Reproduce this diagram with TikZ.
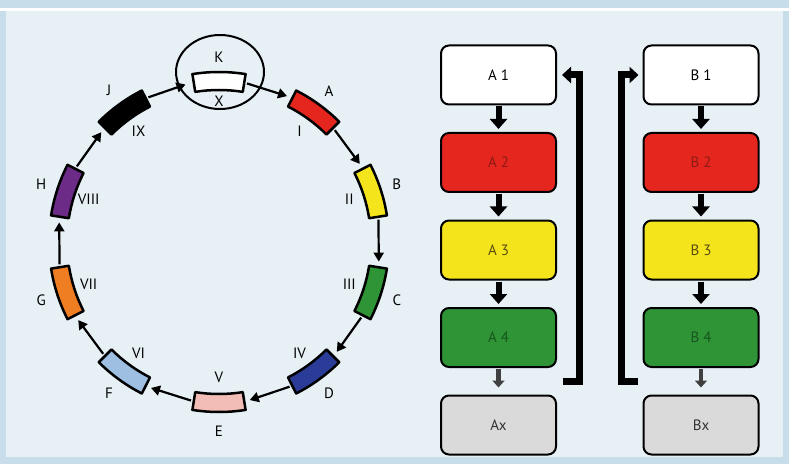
\documentclass[tikz,border=0pt]{standalone}
\usepackage{fontspec}
\setmainfont{PT Sans}
\usetikzlibrary{arrows.meta}

\definecolor{frameblue}{HTML}{C7DDE9}
\definecolor{paleblue}{HTML}{E7F0F5}
\definecolor{segred}{HTML}{E5261F}
\definecolor{segyellow}{HTML}{F3E41B}
\definecolor{seggreen}{HTML}{2E9436}
\definecolor{segblue}{HTML}{2B3C98}
\definecolor{segpink}{HTML}{F1BDB6}
\definecolor{segsky}{HTML}{9EBEE2}
\definecolor{segorange}{HTML}{EF7D22}
\definecolor{segpurple}{HTML}{6B2B86}
\definecolor{boxgray}{HTML}{DADADA}
\definecolor{darkred}{HTML}{8E1A14}
\definecolor{darkolive}{HTML}{5B4E12}
\definecolor{darkgreen}{HTML}{17561D}

\begin{document}
\begin{tikzpicture}[x=1pt,y=1pt,
  seg/.style={draw, line width=2.5pt, line join=round},
  cyc/.style={-{Triangle[length=9pt,width=10pt]}, line width=2.2pt},
  lbl/.style={font=\fontsize{15}{18}\selectfont},
  box/.style={draw, fill=white, line width=2pt, rounded corners=8pt, minimum width=115pt, minimum height=59pt, font=\fontsize{15}{18}\selectfont},
  down/.style={-{Triangle[length=10pt,width=17pt]}, line width=6pt, shorten <=1pt, shorten >=3pt},
  faint/.style={-{Triangle[length=7pt,width=12pt]}, line width=4.5pt, black!75, shorten <=1pt, shorten >=7pt},
  feedback/.style={-{Triangle[length=9pt,width=16pt]}, line width=7pt}]
% background
\fill[frameblue] (0,0) rectangle (789,464);
\fill[paleblue] (6,7) rectangle (783,453);
\fill[white] (0,453) rectangle (789,456);

\begin{scope}[shift={(219,222)}]
% segments
\draw[seg, fill=white] (81:152) arc (81:99:152) -- (99:170) arc (99:81:170) -- cycle; \coordinate (Kin) at (102:161); \coordinate (Kout) at (80:161);
\draw[seg, fill=segred] (45:152) arc (45:63:152) -- (63:170) arc (63:45:170) -- cycle; \coordinate (Ain) at (65:161); \coordinate (Aout) at (44:161);
\draw[seg, fill=segyellow] (9:152) arc (9:27:152) -- (27:170) arc (27:9:170) -- cycle; \coordinate (Bin) at (29:161); \coordinate (Bout) at (8:161);
\draw[seg, fill=seggreen] (-27:152) arc (-27:-9:152) -- (-9:170) arc (-9:-27:170) -- cycle; \coordinate (Cin) at (-7:161); \coordinate (Cout) at (-28:161);
\draw[seg, fill=segblue] (-63:152) arc (-63:-45:152) -- (-45:170) arc (-45:-63:170) -- cycle; \coordinate (Din) at (-43:161); \coordinate (Dout) at (-64:161);
\draw[seg, fill=segpink] (-99:152) arc (-99:-81:152) -- (-81:170) arc (-81:-99:170) -- cycle; \coordinate (Ein) at (-79:161); \coordinate (Eout) at (-100:161);
\draw[seg, fill=segsky] (-135:152) arc (-135:-117:152) -- (-117:170) arc (-117:-135:170) -- cycle; \coordinate (Fin) at (-115:161); \coordinate (Fout) at (-136:161);
\draw[seg, fill=segorange] (-171:152) arc (-171:-153:152) -- (-153:170) arc (-153:-171:170) -- cycle; \coordinate (Gin) at (-151:161); \coordinate (Gout) at (-172:161);
\draw[seg, fill=segpurple] (153:152) arc (153:171:152) -- (171:170) arc (171:153:170) -- cycle; \coordinate (Hin) at (173:161); \coordinate (Hout) at (152:161);
\draw[seg, fill=black] (117:152) arc (117:135:152) -- (135:170) arc (135:117:170) -- cycle; \coordinate (Jin) at (137:161); \coordinate (Jout) at (116:161);
\draw[line width=2pt] (1,170) ellipse (44 and 37);
% letters and numerals
\node[lbl] (lK) at (90:185) {K};   \node[lbl] (nX) at (90:141) {X};
\node[lbl] (lA) at (54:187) {A};   \node[lbl] (nI) at (54:137) {I};
\node[lbl] (lB) at (18:187) {B};   \node[lbl] (nII) at (18:137) {II};
\node[lbl] (lC) at (-18:187) {C};  \node[lbl] (nIII) at (-18:137) {III};
\node[lbl] (lD) at (-54:187) {D};  \node[lbl] (nIV) at (-54:137) {IV};
\node[lbl] (lE) at (-90:189) {E};  \node[lbl] (nV) at (-90:135) {V};
\node[lbl] (lF) at (-126:187) {F}; \node[lbl] (nVI) at (-126:137) {VI};
\node[lbl] (lG) at (-162:187) {G}; \node[lbl] (nVII) at (-162:137) {VII};
\node[lbl] (lH) at (162:187) {H};  \node[lbl] (nVIII) at (162:137) {VIII};
\node[lbl] (lJ) at (126:187) {J};  \node[lbl] (nIX) at (126:137) {IX};
% arrows
\draw[cyc] (Kout) -- (Ain); \draw[cyc] (Aout) -- (Bin); \draw[cyc] (Bout) -- (Cin);
\draw[cyc] (Cout) -- (Din); \draw[cyc] (Dout) -- (Ein); \draw[cyc] (Eout) -- (Fin);
\draw[cyc] (Fout) -- (Gin); \draw[cyc] (Gout) -- (Hin); \draw[cyc] (Hout) -- (Jin);
\draw[cyc] (Jout) -- (Kin);
\end{scope}

% column A
\node[box] (a1) at (498.5,389) {A 1};
\node[box, fill=segred, text=darkred] (a2) at (498.5,301.5) {A 2};
\node[box, fill=segyellow, text=darkolive] (a3) at (498.5,214) {A 3};
\node[box, fill=seggreen, text=darkgreen] (a4) at (498.5,126.5) {A 4};
\node[box, fill=boxgray, text=black!80] (ax) at (498.5,39) {Ax};
\draw[down] (a1) -- (a2); \draw[down] (a2) -- (a3); \draw[down] (a3) -- (a4);
\draw[faint] (a4) -- (ax);
\coordinate (aret) at (563,82.5);
\draw[feedback, shorten >=5pt] (aret) -- ++(16,0) |- (a1.east);

% column B
\node[box] (b1) at (701,389) {B 1};
\node[box, fill=segred, text=darkred] (b2) at (701,301.5) {B 2};
\node[box, fill=segyellow, text=darkolive] (b3) at (701,214) {B 3};
\node[box, fill=seggreen, text=darkgreen] (b4) at (701,126.5) {B 4};
\node[box, fill=boxgray, text=black!80] (bx) at (701,39) {Bx};
\draw[down] (b1) -- (b2); \draw[down] (b2) -- (b3); \draw[down] (b3) -- (b4);
\draw[faint] (b4) -- (bx);
\coordinate (bret) at (638,82.5);
\draw[feedback, shorten >=4pt] (bret) -- ++(-17,0) |- (b1.west);
\end{tikzpicture}
\end{document}
